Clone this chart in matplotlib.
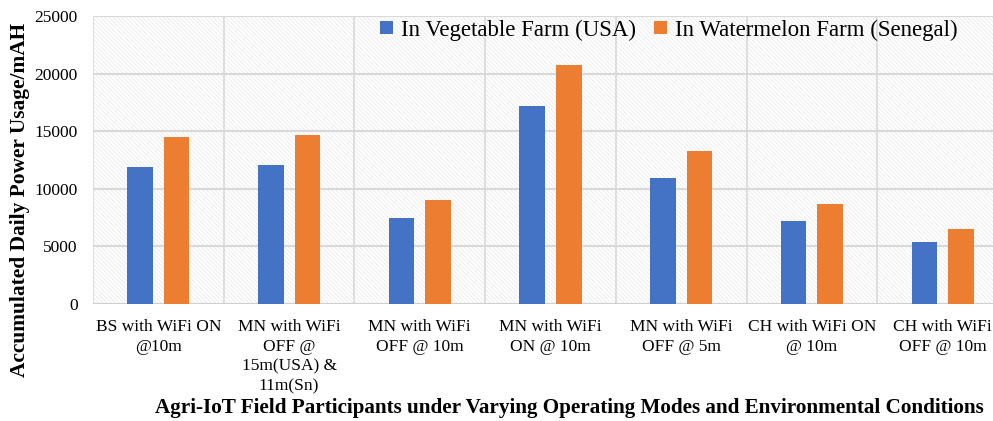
import matplotlib
matplotlib.use("Agg")
import matplotlib.pyplot as plt
from matplotlib.patches import Rectangle
import numpy as np

categories = [
    "BS with WiFi ON\n@10m",
    "MN with WiFi\nOFF @\n15m(USA) &\n11m(Sn)",
    "MN with WiFi\nOFF @ 10m",
    "MN with WiFi\nON @ 10m",
    "MN with WiFi\nOFF @ 5m",
    "CH with WiFi ON\n@ 10m",
    "CH with WiFi\nOFF @ 10m",
]
usa_values = [11900, 12100, 7500, 17150, 10950, 7200, 5350]
senegal_values = [14500, 14700, 9000, 20750, 13250, 8700, 6500]
series_names = ["In Vegetable Farm (USA)", "In Watermelon Farm (Senegal)"]
y_ticks = [0, 5000, 10000, 15000, 20000, 25000]

plt.rcParams["font.family"] = ["Liberation Serif", "DejaVu Serif"]
plt.rcParams["hatch.linewidth"] = 0.5

W, H = 993, 421
fig = plt.figure(figsize=(W / 100, H / 100), dpi=100)
ax = fig.add_axes([93 / W, (H - 304) / H, (1008 - 93) / W, (304 - 16) / H])

# light hatched background like the original
ax.add_patch(Rectangle((0, 0), 1, 1, transform=ax.transAxes, facecolor="white",
                       edgecolor="#e6e6e6", hatch="\\" * 8, lw=0, zorder=0))

x = np.arange(len(categories))
w = 0.195
off = 0.14
ax.bar(x - off, usa_values, w, color="#4472C4", label=series_names[0], zorder=3)
ax.bar(x + off, senegal_values, w, color="#ED7D31", label=series_names[1], zorder=3)

ax.set_xlim(-0.5, len(categories) - 0.5)
ax.set_ylim(0, 25000)
ax.set_yticks(y_ticks)
ax.set_xticks(x)
ax.set_xticklabels(categories, fontsize=12.5, linespacing=1.3)
ax.set_xticks(np.arange(-0.5, len(categories), 1), minor=True)
ax.tick_params(axis="y", length=0, labelsize=12.5, pad=11)
ax.tick_params(axis="x", which="both", length=0, pad=11)
ax.grid(axis="y", color="#d9d9d9", lw=1.5, zorder=1)
ax.grid(axis="x", which="minor", color="#d9d9d9", lw=1.2, zorder=1)
ax.grid(axis="x", which="major", visible=False)
for s in ax.spines.values():
    s.set_visible(False)
ax.axhline(0, color="#d0d0d0", lw=1.5, zorder=2)

fig.text(20 / W, 1 - 200 / H, "Accumulated Daily Power Usage/mAH", rotation=90,
         ha="center", va="center", fontsize=15.4, fontweight="bold")
fig.text(569 / W, 1 - 408 / H,
         "Agri-IoT Field Participants under Varying Operating Modes and Environmental Conditions",
         ha="center", va="center", fontsize=15.2, fontweight="bold")

fig.legend(loc="center left", bbox_to_anchor=(380 / W, 1 - 30 / H), ncol=2,
           frameon=False, fontsize=16.5, handlelength=0.55, handleheight=0.55,
           handletextpad=0.35, columnspacing=0.8, borderpad=0, borderaxespad=0)

fig.savefig("out.png", dpi=100)
